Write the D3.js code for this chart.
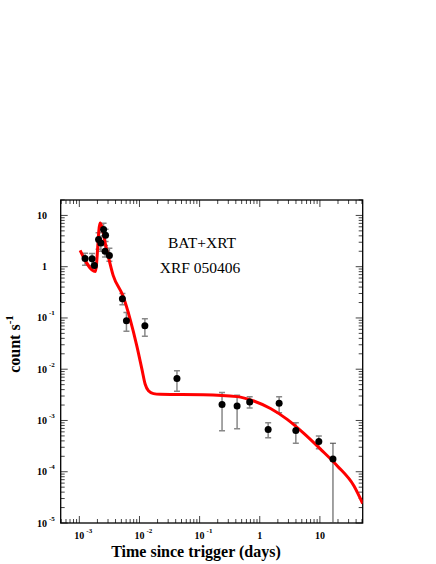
<!DOCTYPE html>
<html>
<head>
<meta charset="utf-8">
<script src="https://cdn.jsdelivr.net/npm/d3@7"></script>
<style>
  body { margin: 0; background: #fff; }
  svg { display: block; }
  text { font-family: 'Liberation Serif', 'Times New Roman', serif; }
  .tick-label { font-weight: bold; font-size: 10px; }
  .tick-sup { font-weight: bold; font-size: 7px; }
  .axis-title { font-weight: bold; font-size: 16px; }
  .note { font-size: 15.5px; }
</style>
</head>
<body>
<svg id="chart" width="436" height="564"></svg>
<script>
// observed points (days, count/s) with error bounds
const pointTime = [1.245e-3, 1.63e-3, 1.78e-3, 2.09e-3, 2.28e-3, 2.53e-3, 2.73e-3, 2.68e-3, 3.16e-3,
  5.2e-3, 6.07e-3, 1.23e-2, 0.042, 0.236, 0.42, 0.68, 1.38, 2.1, 3.98, 9.6, 16.5];
const pointRate = [1.45, 1.43, 1.06, 3.4, 2.9, 5.3, 4.1, 2.0, 1.66,
  0.238, 0.0886, 0.0708, 6.56e-3, 2.04e-3, 1.92e-3, 2.3e-3, 6.7e-4, 2.17e-3, 6.4e-4, 3.9e-4, 1.78e-4];
const rateHigh = [1.82, 1.81, 1.2, 4.6, 3.9, 7.0, 5.4, 2.6, 2.3,
  0.30, 0.128, 0.097, 9.3e-3, 3.5e-3, 3.1e-3, 2.9e-3, 9.0e-4, 2.9e-3, 9.0e-4, 5.0e-4, 3.6e-4];
const rateLow = [1.07, 1.06, 0.95, 2.2, 2.0, 4.0, 3.1, 1.55, 1.27,
  0.18, 0.055, 0.044, 3.7e-3, 6.3e-4, 6.9e-4, 1.76e-3, 4.6e-4, 1.42e-3, 3.6e-4, 2.8e-4, 1e-5];

// model light curve
const modelTime = [1.03e-3, 1.85e-3, 2.21e-3, 2.79e-3, 3.65e-3, 5.35e-3, 7.0e-3, 9.05e-3, 1.10e-2,
  1.245e-2, 1.41e-2, 1.71e-2, 2.21e-2, 4.77e-2, 0.115, 0.42, 0.794, 1.51, 2.86, 5.41, 10.3, 19.5, 36.9, 51.5];
const modelRate = [2.08, 0.81, 7.15, 2.38, 0.676, 0.264, 0.094, 0.0283, 9.95e-3,
  5.08e-3, 3.79e-3, 3.34e-3, 3.24e-3, 3.2e-3, 3.17e-3, 2.92e-3, 2.4e-3, 1.71e-3, 1.05e-3, 5.6e-4, 2.74e-4, 1.3e-4, 5.28e-5, 2.4e-5];

const xDecades = [1e-3, 1e-2, 1e-1, 1, 10];
const yDecades = [1e-5, 1e-4, 1e-3, 1e-2, 1e-1, 1, 10];

const svg = d3.select('#chart');
const plotLeft = 60.7, plotRight = 362.7, plotTop = 200, plotBottom = 523;

const x = d3.scaleLog().domain([4.9e-4, 51.5]).range([plotLeft, plotRight]);
const y = d3.scaleLog().domain([1e-5, 20]).range([plotBottom, plotTop]);

const isMajor = (v) => Math.abs(Math.log10(v) - Math.round(Math.log10(v))) < 1e-9;

svg.append('defs').append('clipPath').attr('id', 'plot-clip')
  .append('rect')
  .attr('x', plotLeft).attr('y', plotTop)
  .attr('width', plotRight - plotLeft).attr('height', plotBottom - plotTop);

// ticks
let ticks = svg.append('g').attr('stroke', '#444').attr('stroke-width', 1);
x.ticks().forEach((v) => {
  let len = isMajor(v) ? 7 : 4;
  ticks.append('line').attr('x1', x(v)).attr('x2', x(v)).attr('y1', plotBottom).attr('y2', plotBottom - len);
  ticks.append('line').attr('x1', x(v)).attr('x2', x(v)).attr('y1', plotTop).attr('y2', plotTop + len);
});
y.ticks().forEach((v) => {
  let len = isMajor(v) ? 7 : 4;
  ticks.append('line').attr('y1', y(v)).attr('y2', y(v)).attr('x1', plotLeft).attr('x2', plotLeft + len);
  ticks.append('line').attr('y1', y(v)).attr('y2', y(v)).attr('x1', plotRight).attr('x2', plotRight - len);
});

// frame
svg.append('rect')
  .attr('x', plotLeft).attr('y', plotTop)
  .attr('width', plotRight - plotLeft).attr('height', plotBottom - plotTop)
  .attr('fill', 'none').attr('stroke', '#000').attr('stroke-width', 1.3);

// tick labels
let expOf = (v) => Math.round(Math.log10(v));
xDecades.forEach((v) => {
  let e = expOf(v);
  if (e === 0 || e === 1) {
    svg.append('text').attr('class', 'tick-label')
      .attr('x', x(v)).attr('y', 539).attr('text-anchor', 'middle')
      .text(e === 0 ? '1' : '10');
  } else {
    svg.append('text').attr('class', 'tick-label')
      .attr('x', x(v)).attr('y', 539).attr('text-anchor', 'middle').text('10');
    svg.append('text').attr('class', 'tick-sup')
      .attr('x', x(v) + 7).attr('y', 533).text(e);
  }
});
yDecades.forEach((v) => {
  let e = expOf(v);
  let ty = y(v) + 3.5;
  if (e === 0 || e === 1) {
    svg.append('text').attr('class', 'tick-label')
      .attr('x', 47).attr('y', ty).attr('text-anchor', 'end')
      .text(e === 0 ? '1' : '10');
  } else {
    svg.append('text').attr('class', 'tick-label')
      .attr('x', 47).attr('y', ty).attr('text-anchor', 'end').text('10');
    svg.append('text').attr('class', 'tick-sup')
      .attr('x', 49).attr('y', ty - 6).text(e);
  }
});

// axis titles
svg.append('text').attr('class', 'axis-title')
  .attr('x', 196).attr('y', 557).attr('text-anchor', 'middle')
  .text('Time since trigger (days)');

let yTitle = svg.append('text').attr('class', 'axis-title')
  .attr('transform', 'translate(20,344) rotate(-90)')
  .attr('text-anchor', 'middle');
yTitle.append('tspan').text('count s');
yTitle.append('tspan').attr('dy', -7).attr('font-size', '11px').text('-1');

// annotation
svg.append('text').attr('class', 'note')
  .attr('x', 202).attr('y', 248).attr('text-anchor', 'middle').text('BAT+XRT');
svg.append('text').attr('class', 'note')
  .attr('x', 200).attr('y', 273).attr('text-anchor', 'middle').text('XRF 050406');

let plot = svg.append('g').attr('clip-path', 'url(#plot-clip)');

// error bars
let bars = plot.selectAll('g.err')
  .data(pointTime.map((t, i) => ({ t: t, v: pointRate[i], lo: rateLow[i], hi: rateHigh[i], last: i === pointTime.length - 1 })))
  .enter()
  .append('g')
  .attr('class', 'err')
  .attr('stroke', (d) => d.last ? '#444' : '#888')
  .attr('stroke-width', (d) => d.last ? 1 : 1.5);

bars.append('line')
  .attr('x1', (d) => x(d.t)).attr('x2', (d) => x(d.t))
  .attr('y1', (d) => y(d.lo)).attr('y2', (d) => y(d.hi));
bars.append('line')
  .attr('x1', (d) => x(d.t) - 3).attr('x2', (d) => x(d.t) + 3)
  .attr('y1', (d) => y(d.hi)).attr('y2', (d) => y(d.hi));
bars.append('line')
  .attr('x1', (d) => x(d.t) - 3).attr('x2', (d) => x(d.t) + 3)
  .attr('y1', (d) => y(d.lo)).attr('y2', (d) => y(d.lo));

// model curve
let line = d3.line()
  .x((d) => x(d[0]))
  .y((d) => y(d[1]))
  .curve(d3.curveMonotoneX);

plot.append('path')
  .datum(modelTime.map((t, i) => [t, modelRate[i]]))
  .attr('d', line)
  .attr('fill', 'none')
  .attr('stroke', '#ff0000')
  .attr('stroke-width', 3)
  .attr('stroke-linejoin', 'round');

// points
plot.selectAll('circle')
  .data(pointTime)
  .enter()
  .append('circle')
  .attr('cx', (d) => x(d))
  .attr('cy', (d, i) => y(pointRate[i]))
  .attr('r', 3.5)
  .attr('fill', '#000');
</script>
</body>
</html>
